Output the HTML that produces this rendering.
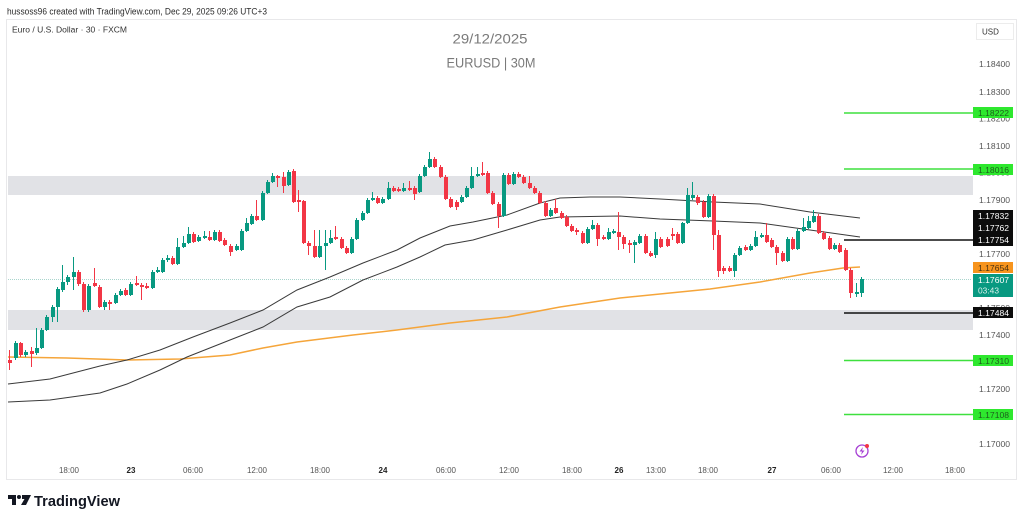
<!DOCTYPE html>
<html><head><meta charset="utf-8"><style>
html,body{margin:0;padding:0;background:#fff;}
svg{display:block;font-family:"Liberation Sans",sans-serif;}
</style></head><body>
<svg width="1024" height="522" viewBox="0 0 1024 522" xmlns="http://www.w3.org/2000/svg">
<rect width="1024" height="522" fill="#fff"/>
<text x="7" y="14.5" font-size="9" fill="#2a2a2a" textLength="260" lengthAdjust="spacingAndGlyphs">hussoss96 created with TradingView.com, Dec 29, 2025 09:26 UTC+3</text>
<rect x="6.5" y="19.5" width="1010" height="460" fill="none" stroke="#e8e8ea" stroke-width="1"/>
<text x="12" y="32.5" font-size="8" fill="#333" textLength="115" lengthAdjust="spacingAndGlyphs">Euro / U.S. Dollar · 30 · FXCM</text>
<text x="490" y="43.5" font-size="14" fill="#7a7a7a" text-anchor="middle" textLength="75" lengthAdjust="spacingAndGlyphs">29/12/2025</text>
<text x="491" y="67.5" font-size="14" fill="#7a7a7a" text-anchor="middle" textLength="89" lengthAdjust="spacingAndGlyphs">EURUSD | 30M</text>
<rect x="976.5" y="23.5" width="37" height="16" fill="#fff" stroke="#ececec"/>
<text x="982" y="34.5" font-size="8" fill="#333">USD</text>
<!-- zones -->
<rect x="8" y="176" width="965" height="19" fill="#e1e2e6"/>
<rect x="8" y="310" width="965" height="20" fill="#e1e2e6"/>
<!-- current price line -->
<line x1="8" y1="279.5" x2="972" y2="279.5" stroke="#a9d5cd" stroke-width="1" stroke-dasharray="1,1"/>
<!-- MAs -->
<path d="M8,357 L67,358 L127,360 L180,359 L230,355 L263,348 L297,342 L353,335 L397,330 L450,323 L507,317 L560,307 L620,298 L670,293 L710,289 L760,282 L810,273 L843,268 L860,267" fill="none" stroke="#f5a53a" stroke-width="1.5"/>
<path d="M8,384 L50,379 L100,366 L127,360 L160,350 L193,337 L230,323 L263,310 L297,290 L330,277 L363,263 L397,250 L420,238 L450,226 L473,222 L507,215 L540,203 L560,198 L590,197 L620,197 L660,199 L713,202 L760,204 L810,212 L860,218" fill="none" stroke="#3a3a3a" stroke-width="1"/>
<path d="M8,402 L50,400 L100,393 L127,384 L160,370 L187,357 L230,340 L263,327 L297,307 L330,297 L363,280 L397,267 L420,257 L445,245 L473,240 L507,230 L540,220 L560,217 L620,216 L660,219 L713,221 L760,223 L810,230 L860,237" fill="none" stroke="#3a3a3a" stroke-width="1"/>
<!-- green candles -->
<path fill="none" stroke="#089981" stroke-width="1" d="M15.5,341V360M25.5,350V357M36.5,328V355M41.5,328V349M46.5,315V331M52.5,305V322M57.5,287V322M62.5,265V292M67.5,275V285M73.5,257V290M88.5,284V312M104.5,300V310M115.5,293V304M120.5,289V296M130.5,282V296M152.5,270V289M157.5,267V273M162.5,258V273M167.5,255V262M177.5,238V265M183.5,236V248M188.5,227V244M198.5,235V242M204.5,231V239M214.5,230V241M236.5,244V251M241.5,229V251M246.5,218V232M251.5,214V225M262.5,191V221M267.5,180V194M272.5,173V183M288.5,170V186M319.5,230V258M325.5,230V270M330.5,230V244M351.5,237V254M356.5,218V240M362.5,211V221M367.5,198V214M372.5,192V201M382.5,197V204M388.5,182V200M403.5,183V192M419.5,174V193M424.5,165V177M429.5,152V168M461.5,195V203M466.5,186V198M471.5,167V189M477.5,167V177M503.5,173V217M513.5,172V185M550.5,208V217M587.5,227V244M592.5,220V230M608.5,228V240M613.5,229V234M634.5,240V263M639.5,234V244M655.5,232V258M682.5,222V244M687.5,188V224M692.5,182V200M708.5,194V218M734.5,253V277M739.5,246V256M750.5,244V251M755.5,231V247M761.5,233V238M787.5,237V262M797.5,229V250M803.5,218V232M808.5,216V229M813.5,210V223M834.5,243V250M856.5,283V297M861.5,277V297"/>
<path fill="#089981" d="M14,343h4V358h-4ZM24,352h4V355h-4ZM35,348h4V353h-4ZM40,330h4V348h-4ZM45,317h4V330h-4ZM51,307h4V317h-4ZM56,289h4V307h-4ZM61,282h4V290h-4ZM66,277h4V282h-4ZM72,272h4V277h-4ZM87,286h4V310h-4ZM103,302h4V307h-4ZM114,295h4V303h-4ZM119,291h4V295h-4ZM129,284h4V295h-4ZM151,272h4V288h-4ZM156,270h4V272h-4ZM161,260h4V272h-4ZM166,258h4V260h-4ZM176,247h4V264h-4ZM182,243h4V247h-4ZM187,234h4V243h-4ZM197,237h4V241h-4ZM203,236h4V238h-4ZM213,232h4V240h-4ZM235,246h4V250h-4ZM240,231h4V250h-4ZM245,223h4V231h-4ZM250,216h4V224h-4ZM261,193h4V220h-4ZM266,182h4V193h-4ZM271,176h4V182h-4ZM287,172h4V185h-4ZM318,246h4V257h-4ZM324,243h4V246h-4ZM329,238h4V243h-4ZM350,239h4V253h-4ZM355,220h4V239h-4ZM361,213h4V220h-4ZM366,200h4V213h-4ZM371,198h4V200h-4ZM381,199h4V203h-4ZM387,188h4V199h-4ZM402,188h4V191h-4ZM418,176h4V192h-4ZM423,167h4V176h-4ZM428,159h4V167h-4ZM460,197h4V202h-4ZM465,188h4V197h-4ZM470,176h4V188h-4ZM476,174h4V176h-4ZM502,175h4V216h-4ZM512,174h4V184h-4ZM549,210h4V216h-4ZM586,229h4V243h-4ZM591,225h4V229h-4ZM607,232h4V239h-4ZM612,231h4V233h-4ZM633,242h4V245h-4ZM638,236h4V243h-4ZM654,239h4V255h-4ZM681,223h4V243h-4ZM686,195h4V223h-4ZM691,195h4V198h-4ZM707,196h4V217h-4ZM733,255h4V271h-4ZM738,248h4V255h-4ZM749,246h4V250h-4ZM754,237h4V246h-4ZM760,235h4V237h-4ZM786,239h4V261h-4ZM796,231h4V249h-4ZM802,227h4V231h-4ZM807,221h4V228h-4ZM812,216h4V222h-4ZM833,245h4V249h-4ZM855,292h4V294h-4ZM860,279h4V293h-4Z"/>
<!-- red candles -->
<path fill="none" stroke="#f23645" stroke-width="1" d="M9.5,350V370M20.5,342V357M31.5,347V367M78.5,270V286M83.5,282V312M94.5,268V287M99.5,285V308M109.5,300V310M125.5,288V296M136.5,276V286M141.5,283V300M146.5,283V289M172.5,256V265M193.5,232V243M209.5,231V241M219.5,230V242M224.5,238V246M230.5,244V256M256.5,200V221M277.5,175V187M283.5,172V193M293.5,169V203M298.5,190V212M303.5,200V244M308.5,241V255M314.5,230V258M335.5,226V240M341.5,237V249M346.5,246V254M377.5,196V204M393.5,186V192M398.5,187V192M409.5,181V191M414.5,186V200M434.5,157V168M440.5,165V178M445.5,175V200M450.5,197V208M456.5,200V210M482.5,162V176M487.5,171V194M492.5,191V205M498.5,202V228M508.5,173V185M518.5,172V178M523.5,175V184M529.5,176V189M534.5,186V194M539.5,191V204M545.5,201V217M555.5,199V214M561.5,211V219M566.5,215V227M571.5,224V232M576.5,228V235M582.5,231V244M597.5,223V246M603.5,235V240M618.5,212V250M623.5,235V249M629.5,240V253M645.5,234V254M650.5,251V257M660.5,237V248M667.5,237V247M672.5,228V240M677.5,232V244M697.5,195V205M703.5,200V218M713.5,194V250M718.5,230V277M723.5,266V274M729.5,266V272M745.5,245V251M766.5,223V243M771.5,238V248M776.5,245V265M782.5,251V262M792.5,237V250M818.5,214V234M823.5,231V240M829.5,236V250M839.5,243V253M845.5,248V271M850.5,268V298"/>
<path fill="#f23645" d="M8,360h4V363h-4ZM19,343h4V355h-4ZM30,351h4V354h-4ZM77,272h4V284h-4ZM82,284h4V310h-4ZM93,283h4V286h-4ZM98,287h4V307h-4ZM108,302h4V304h-4ZM124,290h4V295h-4ZM135,283h4V285h-4ZM140,285h4V287h-4ZM145,286h4V288h-4ZM171,258h4V264h-4ZM192,234h4V242h-4ZM208,237h4V240h-4ZM218,232h4V241h-4ZM223,240h4V245h-4ZM229,246h4V252h-4ZM255,216h4V220h-4ZM276,176h4V178h-4ZM282,177h4V186h-4ZM292,171h4V202h-4ZM297,200h4V202h-4ZM302,201h4V243h-4ZM307,243h4V246h-4ZM313,246h4V257h-4ZM334,237h4V239h-4ZM340,239h4V248h-4ZM345,248h4V253h-4ZM376,198h4V203h-4ZM392,188h4V191h-4ZM397,189h4V191h-4ZM408,188h4V190h-4ZM413,188h4V194h-4ZM433,159h4V167h-4ZM439,167h4V177h-4ZM444,177h4V199h-4ZM449,199h4V207h-4ZM455,202h4V207h-4ZM481,173h4V175h-4ZM486,173h4V193h-4ZM491,193h4V204h-4ZM497,204h4V216h-4ZM507,175h4V184h-4ZM517,174h4V177h-4ZM522,177h4V183h-4ZM528,183h4V188h-4ZM533,188h4V193h-4ZM538,193h4V203h-4ZM544,203h4V216h-4ZM554,208h4V213h-4ZM560,213h4V218h-4ZM565,217h4V226h-4ZM570,226h4V231h-4ZM575,230h4V232h-4ZM581,233h4V243h-4ZM596,225h4V239h-4ZM602,237h4V239h-4ZM617,232h4V237h-4ZM622,237h4V244h-4ZM628,243h4V245h-4ZM644,236h4V253h-4ZM649,253h4V256h-4ZM659,239h4V247h-4ZM666,239h4V246h-4ZM671,234h4V236h-4ZM676,234h4V243h-4ZM696,197h4V203h-4ZM702,202h4V217h-4ZM712,196h4V235h-4ZM717,235h4V271h-4ZM722,268h4V271h-4ZM728,268h4V271h-4ZM744,247h4V250h-4ZM765,235h4V242h-4ZM770,240h4V247h-4ZM775,247h4V253h-4ZM781,253h4V261h-4ZM791,239h4V249h-4ZM817,216h4V233h-4ZM822,233h4V239h-4ZM828,238h4V249h-4ZM838,245h4V252h-4ZM844,250h4V270h-4ZM849,270h4V293h-4Z"/>
<!-- horizontal levels -->
<g stroke="#3ee03e" stroke-width="1.5">
<line x1="844" y1="113" x2="974" y2="113"/>
<line x1="844" y1="169" x2="974" y2="169"/>
<line x1="844" y1="360.5" x2="974" y2="360.5"/>
<line x1="844" y1="414.5" x2="974" y2="414.5"/>
</g>
<g stroke="#111" stroke-width="1.5">
<line x1="844" y1="240" x2="974" y2="240"/>
<line x1="844" y1="313" x2="974" y2="313"/>
</g>
<!-- price axis -->
<g font-size="8" fill="#555">
<text x="979" y="67" textLength="31" lengthAdjust="spacingAndGlyphs">1.18400</text>
<text x="979" y="95" textLength="31" lengthAdjust="spacingAndGlyphs">1.18300</text>
<text x="979" y="121.5" textLength="31" lengthAdjust="spacingAndGlyphs">1.18200</text>
<text x="979" y="149" textLength="31" lengthAdjust="spacingAndGlyphs">1.18100</text>
<text x="979" y="175.5" textLength="31" lengthAdjust="spacingAndGlyphs">1.18000</text>
<text x="979" y="203" textLength="31" lengthAdjust="spacingAndGlyphs">1.17900</text>
<text x="979" y="257" textLength="31" lengthAdjust="spacingAndGlyphs">1.17700</text>
<text x="979" y="311" textLength="31" lengthAdjust="spacingAndGlyphs">1.17500</text>
<text x="979" y="338" textLength="31" lengthAdjust="spacingAndGlyphs">1.17400</text>
<text x="979" y="392" textLength="31" lengthAdjust="spacingAndGlyphs">1.17200</text>
<text x="979" y="447" textLength="31" lengthAdjust="spacingAndGlyphs">1.17000</text>
</g>
<g fill="#2ee82e">
<rect x="973" y="107" width="40" height="11"/>
<rect x="973" y="164" width="40" height="11"/>
<rect x="973" y="355" width="40" height="11"/>
<rect x="973" y="409" width="40" height="11"/>
</g>
<rect x="973" y="210" width="40" height="36" fill="#0c0c0c"/>
<rect x="973" y="307" width="40" height="11" fill="#0c0c0c"/>
<rect x="973" y="262" width="40" height="11" fill="#f7941d"/>
<rect x="973" y="274" width="40" height="23" fill="#089981"/>
<g font-size="8" fill="#1d5e1d">
<text x="978" y="115.8" textLength="31" lengthAdjust="spacingAndGlyphs">1.18222</text>
<text x="978" y="172.8" textLength="31" lengthAdjust="spacingAndGlyphs">1.18016</text>
<text x="978" y="363.8" textLength="31" lengthAdjust="spacingAndGlyphs">1.17310</text>
<text x="978" y="417.8" textLength="31" lengthAdjust="spacingAndGlyphs">1.17108</text>
</g>
<g font-size="8" fill="#fff">
<text x="978" y="219" textLength="31" lengthAdjust="spacingAndGlyphs">1.17832</text>
<text x="978" y="231" textLength="31" lengthAdjust="spacingAndGlyphs">1.17762</text>
<text x="978" y="243" textLength="31" lengthAdjust="spacingAndGlyphs">1.17754</text>
<text x="978" y="315.8" textLength="31" lengthAdjust="spacingAndGlyphs">1.17484</text>
<text x="978" y="283" textLength="31" lengthAdjust="spacingAndGlyphs">1.17607</text>
<text x="978" y="293.5" textLength="21" lengthAdjust="spacingAndGlyphs" fill="#d8f0ea">03:43</text>
</g>
<text x="978" y="270.8" font-size="8" fill="#4a3210" textLength="31" lengthAdjust="spacingAndGlyphs">1.17654</text>
<!-- time axis -->
<g font-size="8" fill="#555" text-anchor="middle">
<text x="69" y="473">18:00</text>
<text x="131" y="473" font-weight="bold" fill="#222">23</text>
<text x="193" y="473">06:00</text>
<text x="257" y="473">12:00</text>
<text x="320" y="473">18:00</text>
<text x="383" y="473" font-weight="bold" fill="#222">24</text>
<text x="446" y="473">06:00</text>
<text x="509" y="473">12:00</text>
<text x="572" y="473">18:00</text>
<text x="619" y="473" font-weight="bold" fill="#222">26</text>
<text x="656" y="473">13:00</text>
<text x="708" y="473">18:00</text>
<text x="772" y="473" font-weight="bold" fill="#222">27</text>
<text x="831" y="473">06:00</text>
<text x="893" y="473">12:00</text>
<text x="955" y="473">18:00</text>
</g>
<!-- lightning icon -->
<circle cx="862" cy="451" r="6" fill="#fff" stroke="#a63fd4" stroke-width="1.3"/>
<path d="M863,447 L859.5,451.5 L862,451.5 L861,455 L864.5,450.5 L862,450.5 Z" fill="#a63fd4"/>
<circle cx="867" cy="446" r="2" fill="#f23645"/>
<!-- TradingView logo -->
<path d="M8,495 H16 V505 H12 V499 H8 Z" fill="#131722"/>
<circle cx="19" cy="497" r="2" fill="#131722"/>
<path d="M22,495 H31 L26,505 H21 L24.5,499 H22 Z" fill="#131722"/>
<text x="34" y="506" font-size="15" font-weight="bold" fill="#131722" textLength="86" lengthAdjust="spacingAndGlyphs">TradingView</text>
</svg>
</body></html>
